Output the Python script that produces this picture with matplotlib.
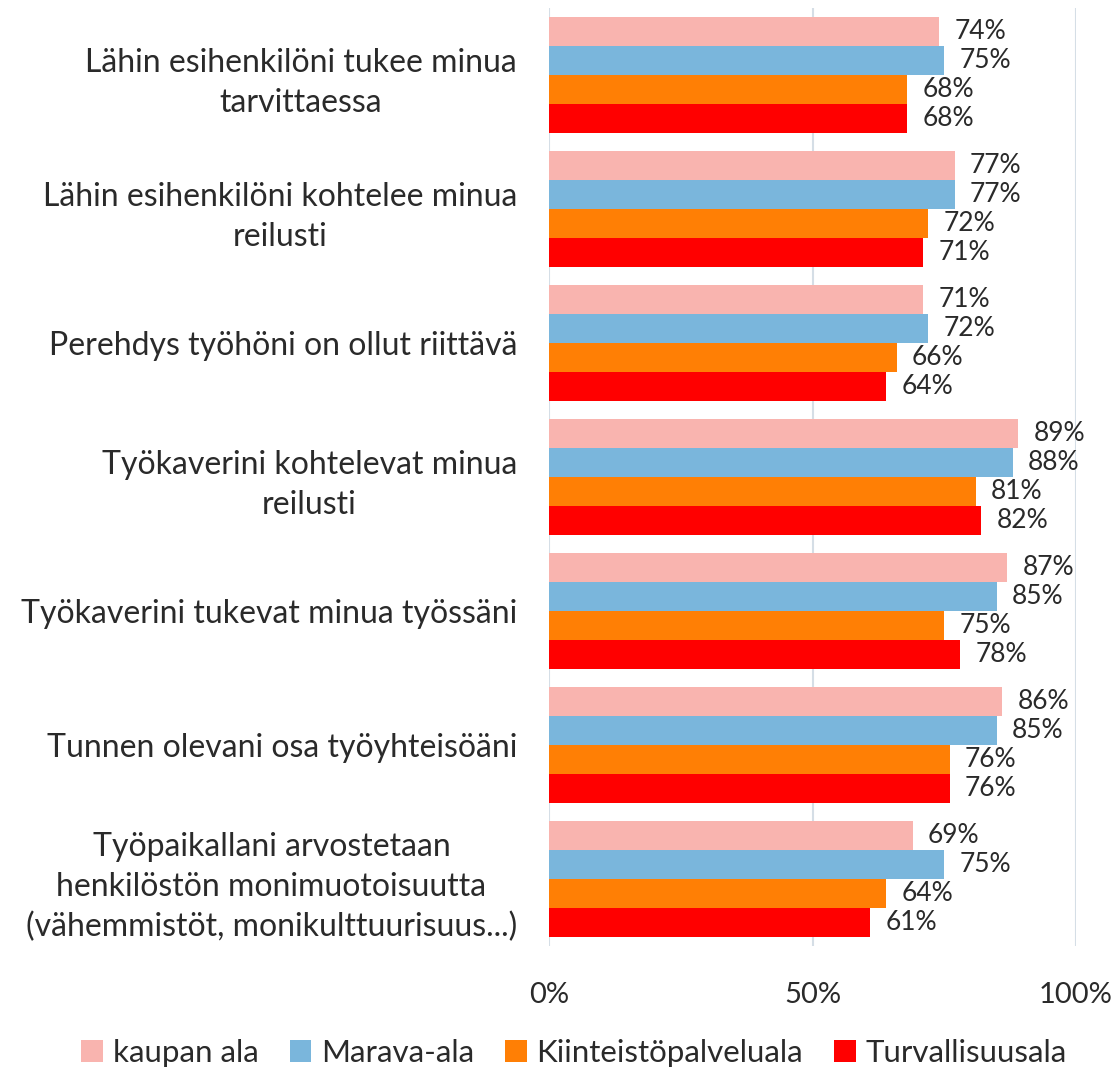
import matplotlib
matplotlib.use("Agg")
import matplotlib.pyplot as plt
import numpy as np

categories = [
    "Lähin esihenkilöni tukee minua\ntarvittaessa",
    "Lähin esihenkilöni kohtelee minua\nreilusti",
    "Perehdys työhöni on ollut riittävä",
    "Työkaverini kohtelevat minua\nreilusti",
    "Työkaverini tukevat minua työssäni",
    "Tunnen olevani osa työyhteisöäni",
    "Työpaikallani arvostetaan\nhenkilöstön monimuotoisuutta\n(vähemmistöt, monikulttuurisuus...)",
]
series_names = ["kaupan ala", "Marava-ala", "Kiinteistöpalveluala", "Turvallisuusala"]
kaupan = [74, 77, 71, 89, 87, 86, 69]
marava = [75, 77, 72, 88, 85, 85, 75]
kiinteisto = [68, 72, 66, 81, 75, 76, 64]
turva = [68, 71, 64, 82, 78, 76, 61]
series_values = [kaupan, marava, kiinteisto, turva]
colors = ["#F9B4AF", "#7AB6DC", "#FF7F05", "#FF0000"]
xticks = [0, 50, 100]
xticklabels = ["0%", "50%", "100%"]

plt.rcParams['font.family'] = ['Lato', 'DejaVu Sans']
text_color = "#2a2a2a"

fig = plt.figure(figsize=(11.19, 10.68), dpi=100)
ax = fig.add_axes([549/1119, 1-946/1068, (1076-549)/1119, (946-8)/1068])

n = len(categories)
bh = 0.215
y = np.arange(n)
for i, (name, vals, c) in enumerate(zip(series_names, series_values, colors)):
    pos = y + (i - 1.5) * bh
    ax.barh(pos, vals, height=bh, color=c, label=name, zorder=3)
    for p, v in zip(pos, vals):
        ax.annotate(f"{v}%", (v, p), xytext=(11, 0), textcoords="offset points",
                    va="center", ha="left", fontsize=19, color=text_color)

ax.set_ylim(n - 0.5, -0.5)
ax.set_xlim(0, 100)
ax.set_yticks(y)
ax.set_yticklabels(categories, fontsize=23, color=text_color, ha="right",
                   multialignment="center", linespacing=1.4)
ax.set_xticks(xticks)
ax.set_xticklabels(xticklabels, fontsize=21, color=text_color)
ax.tick_params(axis="both", length=0)
ax.tick_params(axis="y", pad=23)
ax.tick_params(axis="x", pad=26)
ax.grid(axis="x", color="#D5DEE6", linewidth=1.5, zorder=0)
for s in ax.spines.values():
    s.set_visible(False)

handles, labels = ax.get_legend_handles_labels()
fig.legend(handles, labels, loc="center", bbox_to_anchor=(0.513, 1-1053/1068), ncol=4,
           frameon=False, fontsize=22.5, handlelength=0.7, handleheight=0.7,
           handletextpad=0.3, columnspacing=1.0, labelcolor=text_color)

fig.savefig("out.png", dpi=100)
